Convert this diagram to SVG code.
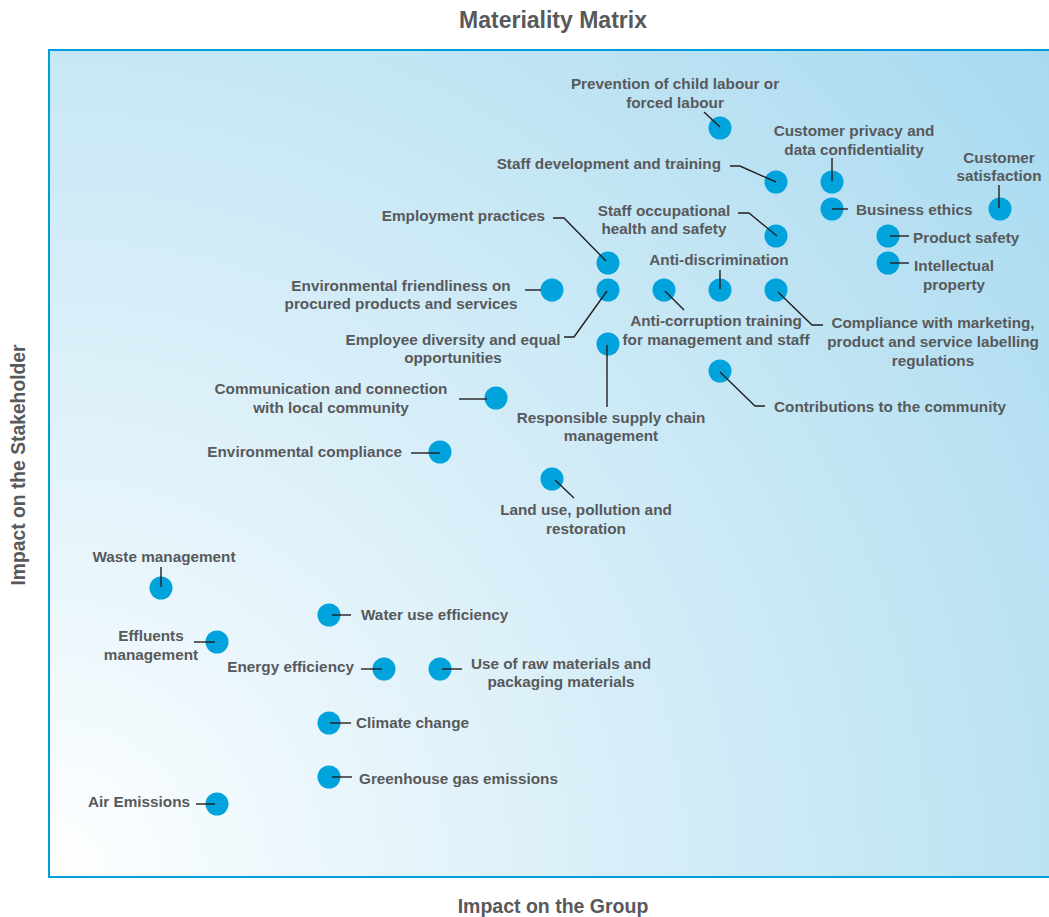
<svg xmlns="http://www.w3.org/2000/svg" width="1049" height="917" viewBox="0 0 1049 917">
<defs>
<radialGradient id="bg" gradientUnits="userSpaceOnUse" cx="49" cy="877" r="1320">
<stop offset="0" stop-color="#ffffff"/>
<stop offset="0.12" stop-color="#f3fafd"/>
<stop offset="1" stop-color="#a6d9ef"/>
</radialGradient>
<style>
text{font-family:"Liberation Sans",Arial,sans-serif;font-weight:bold;fill:#58595b}
.lb{font-size:15.3px}
.m{text-anchor:middle}
.e{text-anchor:end}
.dot{fill:#00a3dc}
.ld{fill:none;stroke:#231f20;stroke-width:1.4}
</style>
</defs>
<rect x="0" y="0" width="1049" height="917" fill="#ffffff"/>
<g id="frame">
<rect x="49" y="50" width="1012" height="827" fill="url(#bg)" stroke="#009fda" stroke-width="2"/>
</g>
<g id="titles">
<text x="553" y="28" class="m" font-size="23">Materiality Matrix</text>
<text x="553" y="913" class="m" font-size="19.5">Impact on the Group</text>
<text transform="translate(25,465) rotate(-90)" class="m" font-size="19.3">Impact on the Stakeholder</text>
</g>
<g id="nodes">
<g id="n-child-labour"><circle class="dot" cx="720" cy="128" r="11.5"/><text class="lb m" x="675" y="89">Prevention of child labour or</text><text class="lb m" x="675" y="108">forced labour</text></g>
<g id="n-staff-dev"><circle class="dot" cx="776" cy="182" r="11.5"/><text class="lb e" x="721" y="169">Staff development and training</text></g>
<g id="n-privacy"><circle class="dot" cx="832" cy="182" r="11.5"/><text class="lb m" x="854" y="136">Customer privacy and</text><text class="lb m" x="854" y="155">data confidentiality</text></g>
<g id="n-ethics"><circle class="dot" cx="832" cy="209" r="11.5"/><text class="lb" x="856" y="215">Business ethics</text></g>
<g id="n-satisfaction"><circle class="dot" cx="1000" cy="209" r="11.5"/><text class="lb m" x="999" y="163">Customer</text><text class="lb m" x="999" y="181">satisfaction</text></g>
<g id="n-ohs"><circle class="dot" cx="776" cy="236" r="11.5"/><text class="lb m" x="664" y="216">Staff occupational</text><text class="lb m" x="664" y="234">health and safety</text></g>
<g id="n-product-safety"><circle class="dot" cx="888" cy="236" r="11.5"/><text class="lb" x="913" y="243">Product safety</text></g>
<g id="n-ip"><circle class="dot" cx="888" cy="263" r="11.5"/><text class="lb m" x="954" y="271">Intellectual</text><text class="lb m" x="954" y="290">property</text></g>
<g id="n-employment"><circle class="dot" cx="608" cy="263" r="11.5"/><text class="lb e" x="545" y="221">Employment practices</text></g>
<g id="n-env-friendly"><circle class="dot" cx="552" cy="290" r="11.5"/><text class="lb m" x="401" y="291">Environmental friendliness on</text><text class="lb m" x="401" y="309">procured products and services</text></g>
<g id="n-diversity"><circle class="dot" cx="608" cy="290" r="11.5"/><text class="lb m" x="453" y="345">Employee diversity and equal</text><text class="lb m" x="453" y="363">opportunities</text></g>
<g id="n-anticorruption"><circle class="dot" cx="664" cy="290" r="11.5"/><text class="lb m" x="716" y="326">Anti-corruption training</text><text class="lb m" x="716" y="345">for management and staff</text></g>
<g id="n-antidiscrimination"><circle class="dot" cx="720" cy="290" r="11.5"/><text class="lb m" x="719" y="265">Anti-discrimination</text></g>
<g id="n-marketing"><circle class="dot" cx="776" cy="290" r="11.5"/><text class="lb m" x="933" y="328">Compliance with marketing,</text><text class="lb m" x="933" y="347">product and service labelling</text><text class="lb m" x="933" y="366">regulations</text></g>
<g id="n-supply-chain"><circle class="dot" cx="608" cy="344" r="11.5"/><text class="lb m" x="611" y="423">Responsible supply chain</text><text class="lb m" x="611" y="441">management</text></g>
<g id="n-contributions"><circle class="dot" cx="720" cy="371" r="11.5"/><text class="lb" x="774" y="412">Contributions to the community</text></g>
<g id="n-communication"><circle class="dot" cx="496" cy="398" r="11.5"/><text class="lb m" x="331" y="394">Communication and connection</text><text class="lb m" x="331" y="413">with local community</text></g>
<g id="n-env-compliance"><circle class="dot" cx="440" cy="452" r="11.5"/><text class="lb e" x="402" y="457">Environmental compliance</text></g>
<g id="n-land-use"><circle class="dot" cx="552" cy="479" r="11.5"/><text class="lb m" x="586" y="515">Land use, pollution and</text><text class="lb m" x="586" y="534">restoration</text></g>
<g id="n-waste"><circle class="dot" cx="161" cy="588" r="11.5"/><text class="lb m" x="164" y="562">Waste management</text></g>
<g id="n-water"><circle class="dot" cx="329" cy="615" r="11.5"/><text class="lb" x="361" y="620">Water use efficiency</text></g>
<g id="n-effluents"><circle class="dot" cx="217" cy="642" r="11.5"/><text class="lb m" x="151" y="641">Effluents</text><text class="lb m" x="151" y="660">management</text></g>
<g id="n-energy"><circle class="dot" cx="384" cy="669" r="11.5"/><text class="lb e" x="354" y="672">Energy efficiency</text></g>
<g id="n-raw-materials"><circle class="dot" cx="440" cy="669" r="11.5"/><text class="lb m" x="561" y="669">Use of raw materials and</text><text class="lb m" x="561" y="687">packaging materials</text></g>
<g id="n-climate"><circle class="dot" cx="329" cy="723" r="11.5"/><text class="lb" x="356" y="728">Climate change</text></g>
<g id="n-ghg"><circle class="dot" cx="329" cy="777" r="11.5"/><text class="lb" x="359" y="784">Greenhouse gas emissions</text></g>
<g id="n-air"><circle class="dot" cx="217" cy="804" r="11.5"/><text class="lb e" x="190" y="807">Air Emissions</text></g>
</g>
<g id="connectors">
<polyline class="ld" points="704,112 720,127"/>
<polyline class="ld" points="730,166 740,166 776,182"/>
<polyline class="ld" points="832,158 832,181"/>
<polyline class="ld" points="832,209 848,209"/>
<polyline class="ld" points="999,185 999,208"/>
<polyline class="ld" points="738,213 749,213 777,236"/>
<polyline class="ld" points="890,236 909,236"/>
<polyline class="ld" points="890,263 909,263"/>
<polyline class="ld" points="553,218 564,218 606,261"/>
<polyline class="ld" points="525,290 541,290"/>
<polyline class="ld" points="564,337 574,337 607,291"/>
<polyline class="ld" points="665,291 684,310"/>
<polyline class="ld" points="720,270 720,289"/>
<polyline class="ld" points="778,292 812,325 823,325"/>
<polyline class="ld" points="607,345 607,407"/>
<polyline class="ld" points="720,372 755,406 765,406"/>
<polyline class="ld" points="459,399 487,399"/>
<polyline class="ld" points="411,453 440,453"/>
<polyline class="ld" points="555,480 574,498"/>
<polyline class="ld" points="161,567 161,587"/>
<polyline class="ld" points="332,615 351,615"/>
<polyline class="ld" points="194,642 215,642"/>
<polyline class="ld" points="361,669 382,669"/>
<polyline class="ld" points="442,669 462,669"/>
<polyline class="ld" points="330,723 351,723"/>
<polyline class="ld" points="332,777 352,777"/>
<polyline class="ld" points="196,804 215,804"/>
</g>
</svg>
